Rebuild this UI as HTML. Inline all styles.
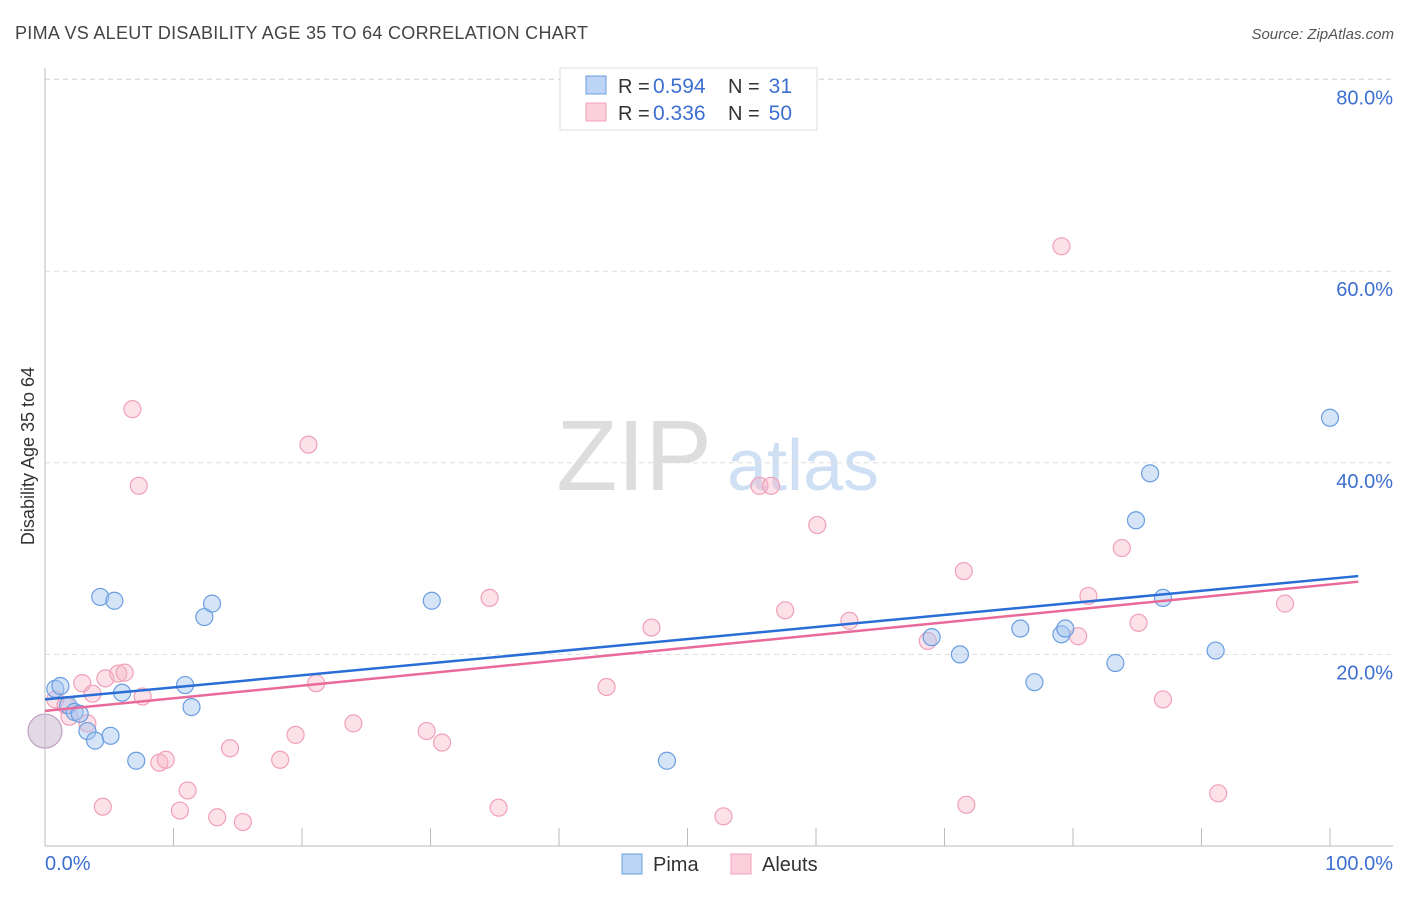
<!DOCTYPE html>
<html><head><meta charset="utf-8"><style>
body{margin:0;background:#fff;font-family:"Liberation Sans",sans-serif;}
svg text{font-family:"Liberation Sans",sans-serif;}
</style></head><body>
<svg id="chart" width="1406" height="892" xmlns="http://www.w3.org/2000/svg">
<text x="15" y="39" font-size="18" fill="#444" textLength="573">PIMA VS ALEUT DISABILITY AGE 35 TO 64 CORRELATION CHART</text>
<text x="1394" y="39" font-size="15" fill="#555" text-anchor="end" font-style="italic">Source: ZipAtlas.com</text>
<g>
<text x="634" y="490" font-size="100" fill="#ddd" text-anchor="middle" font-family="Liberation Serif, serif">ZIP</text>
<text x="803" y="490" font-size="72" fill="#cfe0f5" text-anchor="middle">atlas</text>
</g>
<g id="grid"></g>
<g id="axes"></g>
<g id="points"></g>
<g id="lines"></g>
<text transform="translate(34,456) rotate(-90)" font-size="18" fill="#333" text-anchor="middle">Disability Age 35 to 64</text>
<text x="45" y="870" font-size="20" fill="#3d6fd0">0.0%</text>
<text x="1393" y="870" font-size="20" fill="#3d6fd0" text-anchor="end">100.0%</text>
<g>
<rect x="560" y="68" width="257" height="62" fill="#fff" stroke="#ddd"/>
<rect x="586" y="76" width="20" height="18" fill="#bcd4f6" stroke="#6a9ee0"/>
<text x="618" y="93" font-size="20" fill="#333">R =</text>
<text x="653" y="93" font-size="21" fill="#3d6fd0">0.594</text>
<text x="728" y="93" font-size="20" fill="#333">N =</text>
<text x="792" y="93" font-size="21" fill="#3d6fd0" text-anchor="end">31</text>
<rect x="586" y="103" width="20" height="18" fill="#fbd0dc" stroke="#f0a0b8"/>
<text x="618" y="120" font-size="20" fill="#333">R =</text>
<text x="653" y="120" font-size="21" fill="#3d6fd0">0.336</text>
<text x="728" y="120" font-size="20" fill="#333">N =</text>
<text x="792" y="120" font-size="21" fill="#3d6fd0" text-anchor="end">50</text>
</g>
<g>
<rect x="622" y="854" width="20" height="20" fill="#bcd4f6" stroke="#6a9ee0"/>
<text x="653" y="871" font-size="20" fill="#333">Pima</text>
<rect x="731" y="854" width="20" height="20" fill="#fbd0dc" stroke="#f0a0b8"/>
<text x="762" y="871" font-size="20" fill="#333">Aleuts</text>
</g>
</svg>
<script>
const yTicks=[20,40,60,80];
const yTickLabels=["20.0%","40.0%","60.0%","80.0%"];
const xTicks=[0,10,20,30,40,50,60,70,80,90,100];
const pimaX=[0.8,1.2,1.8,2.3,2.7,3.3,3.9,5.1,4.3,5.4,6.0,7.1,10.9,11.4,12.4,13.0,30.1,48.4,69.0,71.2,75.9,77.0,79.1,79.4,83.3,84.9,86.0,87.0,91.1,100];
const pimaY=[16.4,16.7,14.7,14.0,13.8,12.0,11.0,11.5,26.0,25.6,16.0,8.9,16.8,14.5,23.9,25.3,25.6,8.9,21.8,20.0,22.7,17.1,22.1,22.7,19.1,34.0,38.9,25.9,20.4,44.7];
const aleutX=[0.8,1.6,1.9,2.9,3.3,3.7,4.5,4.7,5.7,6.2,6.8,7.3,7.6,8.9,9.4,10.5,11.1,13.4,14.4,15.4,18.3,19.5,20.5,21.1,24.0,29.7,30.9,34.6,35.3,43.7,47.2,52.8,55.6,56.5,57.6,60.1,62.6,68.7,71.5,71.7,79.1,80.4,81.2,83.8,85.1,87.0,91.3,96.5];
const aleutY=[15.3,14.7,13.5,17.0,12.8,15.9,4.1,17.5,18.0,18.1,45.6,37.6,15.6,8.7,9.0,3.7,5.8,3.0,10.2,2.5,9.0,11.6,41.9,17.0,12.8,12.0,10.8,25.9,4.0,16.6,22.8,3.1,37.6,37.6,24.6,33.5,23.5,21.4,28.7,4.3,62.6,21.9,26.1,31.1,23.3,15.3,5.5,25.3];
const pimaTrend=[15.3,0.126];
const aleutTrend=[14.1,0.132];
const NS="http://www.w3.org/2000/svg";
const sx=v=>45+v*12.85, sy=v=>846-v*9.58;
function mk(tag,attrs,parent){const e=document.createElementNS(NS,tag);for(const k in attrs)e.setAttribute(k,attrs[k]);document.getElementById(parent).appendChild(e);return e;}
yTicks.forEach((t,i)=>{
 const g=mk('line',{x1:45,x2:1393,y1:sy(t),y2:sy(t),stroke:'#ddd','stroke-dasharray':'5,4'},'grid');
 
 
 const l=mk('text',{x:1393,y:sy(t)+25,'font-size':20,fill:'#3d6fd0','text-anchor':'end'},'grid');
 l.textContent=yTickLabels[i];
 
 
});
const topLine=mk('line',{x1:45,x2:1393,y1:79,y2:79,stroke:'#ddd','stroke-dasharray':'5,4'},'grid');


const ya=mk('line',{x1:45,x2:45,y1:68,y2:846,stroke:'#bbb'},'axes');


const xa=mk('line',{x1:45,x2:1393,y1:846,y2:846,stroke:'#bbb'},'axes');


xTicks.forEach(t=>{
 const k=mk('line',{x1:sx(t),x2:sx(t),y1:828,y2:846,stroke:'#bbb'},'axes');
 
 
});
function dot(x,y,r,fill,stroke,name){
 const c=mk('circle',{cx:sx(x),cy:sy(y),r:r,fill:fill,stroke:stroke,'stroke-width':1.2},'points');
 
 
}
aleutX.forEach((x,i)=>dot(x,aleutY[i],8.5,'rgba(248,180,200,0.4)','#f0a0b8','aleut-point'));
pimaX.forEach((x,i)=>dot(x,pimaY[i],8.5,'rgba(164,196,240,0.45)','#6a9ee0','pima-point'));
dot(0,12.0,17,'rgba(200,185,210,0.55)','#c0a0c0','pima-aleut-cluster');
function trend(tr,color,name){
 const x1=0,x2=102.2;
 const l=mk('line',{x1:sx(x1),y1:sy(tr[0]+tr[1]*x1),x2:sx(x2),y2:sy(tr[0]+tr[1]*x2),stroke:color,'stroke-width':2.5},'lines');
 
 
}
trend(aleutTrend,'#e8699a','aleut-trendline');
trend(pimaTrend,'#2a6dd6','pima-trendline');
</script>
</body></html>
